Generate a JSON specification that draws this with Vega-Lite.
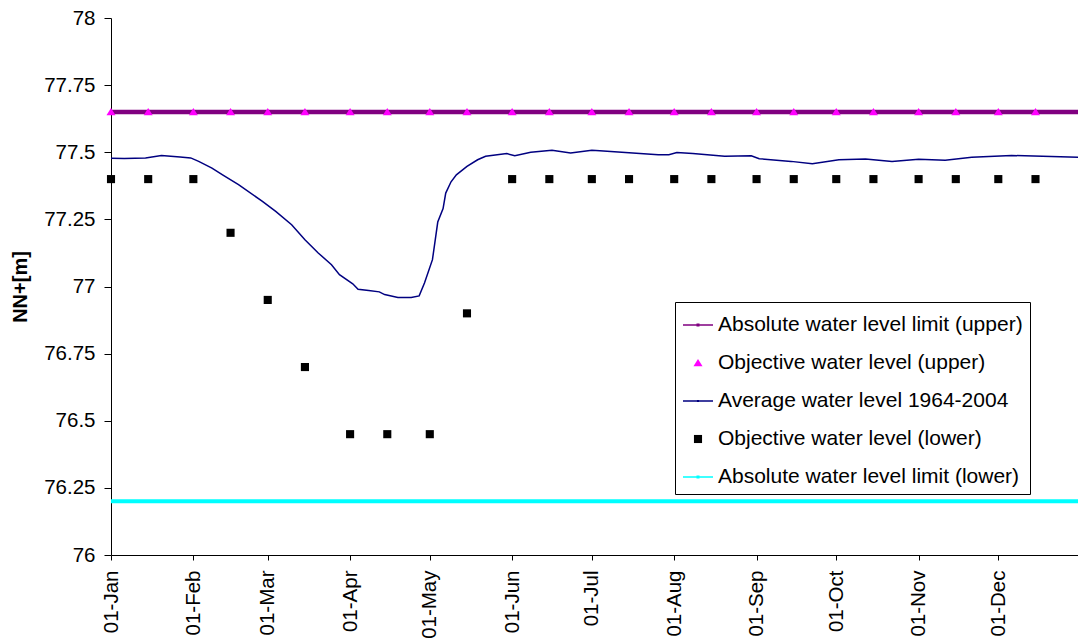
{
  "$schema": "https://vega.github.io/schema/vega-lite/v6.json",
  "autosize": {"type": "none"},
  "padding": {"left": 111, "top": 18, "right": 0, "bottom": 87},
  "width": 967,
  "height": 537,
  "background": "white",
  "config": {
    "font": "Liberation Sans",
    "view": {"stroke": null},
    "axis": {"grid": false, "domainColor": "black", "tickColor": "black", "labelColor": "black", "titleColor": "black", "domainWidth": 1, "tickWidth": 1}
  },
  "datasets": {
    "upperLimit": [
      {"series": "Absolute water level limit (upper)", "date": "2001-01-01", "value": 77.65},
      {"series": "Absolute water level limit (upper)", "date": "2001-12-31", "value": 77.65}
    ],
    "lowerLimit": [
      {"series": "Absolute water level limit (lower)", "date": "2001-01-01", "value": 76.2},
      {"series": "Absolute water level limit (lower)", "date": "2001-12-31", "value": 76.2}
    ],
    "average": [
      {"date": "2001-01-01", "value": 77.478},
      {"date": "2001-01-06", "value": 77.477},
      {"date": "2001-01-14", "value": 77.479},
      {"date": "2001-01-20", "value": 77.488},
      {"date": "2001-01-27", "value": 77.482},
      {"date": "2001-01-31", "value": 77.479},
      {"date": "2001-02-03", "value": 77.466},
      {"date": "2001-02-08", "value": 77.441},
      {"date": "2001-02-12", "value": 77.416},
      {"date": "2001-02-18", "value": 77.379},
      {"date": "2001-02-27", "value": 77.317},
      {"date": "2001-03-04", "value": 77.28},
      {"date": "2001-03-10", "value": 77.23},
      {"date": "2001-03-15", "value": 77.174},
      {"date": "2001-03-20", "value": 77.125},
      {"date": "2001-03-25", "value": 77.081},
      {"date": "2001-03-28", "value": 77.044},
      {"date": "2001-04-02", "value": 77.01},
      {"date": "2001-04-04", "value": 76.99},
      {"date": "2001-04-08", "value": 76.985},
      {"date": "2001-04-12", "value": 76.98},
      {"date": "2001-04-14", "value": 76.97},
      {"date": "2001-04-19", "value": 76.959},
      {"date": "2001-04-24", "value": 76.959},
      {"date": "2001-04-27", "value": 76.965},
      {"date": "2001-04-29", "value": 77.013},
      {"date": "2001-05-02", "value": 77.1},
      {"date": "2001-05-03", "value": 77.17},
      {"date": "2001-05-04", "value": 77.24},
      {"date": "2001-05-06", "value": 77.29},
      {"date": "2001-05-07", "value": 77.348},
      {"date": "2001-05-09", "value": 77.39},
      {"date": "2001-05-11", "value": 77.416},
      {"date": "2001-05-15", "value": 77.447},
      {"date": "2001-05-19", "value": 77.472},
      {"date": "2001-05-22", "value": 77.485},
      {"date": "2001-05-30", "value": 77.495},
      {"date": "2001-06-02", "value": 77.487},
      {"date": "2001-06-08", "value": 77.5},
      {"date": "2001-06-16", "value": 77.507},
      {"date": "2001-06-23", "value": 77.497},
      {"date": "2001-07-01", "value": 77.507},
      {"date": "2001-07-04", "value": 77.506},
      {"date": "2001-07-26", "value": 77.491},
      {"date": "2001-07-30", "value": 77.491},
      {"date": "2001-08-02", "value": 77.499},
      {"date": "2001-08-08", "value": 77.495},
      {"date": "2001-08-20", "value": 77.485},
      {"date": "2001-08-30", "value": 77.487},
      {"date": "2001-09-02", "value": 77.476},
      {"date": "2001-09-14", "value": 77.466},
      {"date": "2001-09-22", "value": 77.457},
      {"date": "2001-10-02", "value": 77.472},
      {"date": "2001-10-12", "value": 77.475},
      {"date": "2001-10-22", "value": 77.466},
      {"date": "2001-11-01", "value": 77.474},
      {"date": "2001-11-11", "value": 77.47},
      {"date": "2001-11-21", "value": 77.481},
      {"date": "2001-12-06", "value": 77.488},
      {"date": "2001-12-31", "value": 77.481}
    ],
    "objectives": [
      {"series": "Objective water level (upper)", "date": "2001-01-01", "value": 77.65},
      {"series": "Objective water level (upper)", "date": "2001-01-15", "value": 77.65},
      {"series": "Objective water level (upper)", "date": "2001-02-01", "value": 77.65},
      {"series": "Objective water level (upper)", "date": "2001-02-15", "value": 77.65},
      {"series": "Objective water level (upper)", "date": "2001-03-01", "value": 77.65},
      {"series": "Objective water level (upper)", "date": "2001-03-15", "value": 77.65},
      {"series": "Objective water level (upper)", "date": "2001-04-01", "value": 77.65},
      {"series": "Objective water level (upper)", "date": "2001-04-15", "value": 77.65},
      {"series": "Objective water level (upper)", "date": "2001-05-01", "value": 77.65},
      {"series": "Objective water level (upper)", "date": "2001-05-15", "value": 77.65},
      {"series": "Objective water level (upper)", "date": "2001-06-01", "value": 77.65},
      {"series": "Objective water level (upper)", "date": "2001-06-15", "value": 77.65},
      {"series": "Objective water level (upper)", "date": "2001-07-01", "value": 77.65},
      {"series": "Objective water level (upper)", "date": "2001-07-15", "value": 77.65},
      {"series": "Objective water level (upper)", "date": "2001-08-01", "value": 77.65},
      {"series": "Objective water level (upper)", "date": "2001-08-15", "value": 77.65},
      {"series": "Objective water level (upper)", "date": "2001-09-01", "value": 77.65},
      {"series": "Objective water level (upper)", "date": "2001-09-15", "value": 77.65},
      {"series": "Objective water level (upper)", "date": "2001-10-01", "value": 77.65},
      {"series": "Objective water level (upper)", "date": "2001-10-15", "value": 77.65},
      {"series": "Objective water level (upper)", "date": "2001-11-01", "value": 77.65},
      {"series": "Objective water level (upper)", "date": "2001-11-15", "value": 77.65},
      {"series": "Objective water level (upper)", "date": "2001-12-01", "value": 77.65},
      {"series": "Objective water level (upper)", "date": "2001-12-15", "value": 77.65},
      {"series": "Objective water level (lower)", "date": "2001-01-01", "value": 77.4},
      {"series": "Objective water level (lower)", "date": "2001-01-15", "value": 77.4},
      {"series": "Objective water level (lower)", "date": "2001-02-01", "value": 77.4},
      {"series": "Objective water level (lower)", "date": "2001-02-15", "value": 77.2},
      {"series": "Objective water level (lower)", "date": "2001-03-01", "value": 76.95},
      {"series": "Objective water level (lower)", "date": "2001-03-15", "value": 76.7},
      {"series": "Objective water level (lower)", "date": "2001-04-01", "value": 76.45},
      {"series": "Objective water level (lower)", "date": "2001-04-15", "value": 76.45},
      {"series": "Objective water level (lower)", "date": "2001-05-01", "value": 76.45},
      {"series": "Objective water level (lower)", "date": "2001-05-15", "value": 76.9},
      {"series": "Objective water level (lower)", "date": "2001-06-01", "value": 77.4},
      {"series": "Objective water level (lower)", "date": "2001-06-15", "value": 77.4},
      {"series": "Objective water level (lower)", "date": "2001-07-01", "value": 77.4},
      {"series": "Objective water level (lower)", "date": "2001-07-15", "value": 77.4},
      {"series": "Objective water level (lower)", "date": "2001-08-01", "value": 77.4},
      {"series": "Objective water level (lower)", "date": "2001-08-15", "value": 77.4},
      {"series": "Objective water level (lower)", "date": "2001-09-01", "value": 77.4},
      {"series": "Objective water level (lower)", "date": "2001-09-15", "value": 77.4},
      {"series": "Objective water level (lower)", "date": "2001-10-01", "value": 77.4},
      {"series": "Objective water level (lower)", "date": "2001-10-15", "value": 77.4},
      {"series": "Objective water level (lower)", "date": "2001-11-01", "value": 77.4},
      {"series": "Objective water level (lower)", "date": "2001-11-15", "value": 77.4},
      {"series": "Objective water level (lower)", "date": "2001-12-01", "value": 77.4},
      {"series": "Objective water level (lower)", "date": "2001-12-15", "value": 77.4}
    ]
  },
  "encoding": {
    "x": {
      "field": "date", "type": "temporal",
      "scale": {"type": "utc", "domain": [{"year": 2001, "month": 1, "date": 1, "utc": true}, {"year": 2001, "month": 12, "date": 31, "utc": true}]},
      "axis": {
        "title": null, "format": "%d-%b",
        "values": [
          {"year": 2001, "month": 1, "date": 1, "utc": true},
          {"year": 2001, "month": 2, "date": 1, "utc": true},
          {"year": 2001, "month": 3, "date": 1, "utc": true},
          {"year": 2001, "month": 4, "date": 1, "utc": true},
          {"year": 2001, "month": 5, "date": 1, "utc": true},
          {"year": 2001, "month": 6, "date": 1, "utc": true},
          {"year": 2001, "month": 7, "date": 1, "utc": true},
          {"year": 2001, "month": 8, "date": 1, "utc": true},
          {"year": 2001, "month": 9, "date": 1, "utc": true},
          {"year": 2001, "month": 10, "date": 1, "utc": true},
          {"year": 2001, "month": 11, "date": 1, "utc": true},
          {"year": 2001, "month": 12, "date": 1, "utc": true}
        ],
        "labelAngle": 270, "labelAlign": "right", "labelBaseline": "middle",
        "labelFontSize": 20.5, "labelPadding": 10, "tickSize": 5, "labelOverlap": false, "labelFlush": false
      }
    },
    "y": {
      "field": "value", "type": "quantitative",
      "scale": {"domain": [76, 78], "nice": false, "zero": false},
      "axis": {
        "title": "NN+[m]", "titleFontSize": 20, "titleFontWeight": "bold",
        "titleX": -91, "titleY": 268.5, "titleAngle": 270, "titleAlign": "center", "titleBaseline": "middle",
        "values": [76, 76.25, 76.5, 76.75, 77, 77.25, 77.5, 77.75, 78],
        "format": ".2~f", "labelFontSize": 20.5, "labelPadding": 9, "tickSize": 7, "labelOverlap": false, "labelFlush": false
      }
    }
  },
  "layer": [
    {
      "data": {"name": "upperLimit"},
      "mark": {"type": "line", "color": "#800080", "strokeWidth": 4.5}
    },
    {
      "data": {"name": "average"},
      "mark": {"type": "line", "color": "#000080", "strokeWidth": 1.5}
    },
    {
      "data": {"name": "lowerLimit"},
      "mark": {"type": "line", "color": "#00FFFF", "strokeWidth": 4}
    },
    {
      "data": {"name": "objectives"},
      "mark": {"type": "point", "filled": true, "size": 900, "opacity": 1},
      "encoding": {
        "color": {
          "field": "series", "type": "nominal",
          "scale": {
            "domain": ["Absolute water level limit (upper)", "Objective water level (upper)", "Average water level 1964-2004", "Objective water level (lower)", "Absolute water level limit (lower)"],
            "range": ["#800080", "#FF00FF", "#000080", "#000000", "#00FFFF"]
          },
          "legend": {
            "title": null, "orient": "none", "legendX": 564, "legendY": 284,
            "padding": 7, "strokeColor": "black", "fillColor": "white",
            "symbolSize": 900, "labelFontSize": 21, "labelColor": "black",
            "labelOffset": 4, "rowPadding": 12, "labelLimit": 400, "symbolOpacity": 1
          }
        },
        "shape": {
          "field": "series", "type": "nominal",
          "scale": {
            "domain": ["Absolute water level limit (upper)", "Objective water level (upper)", "Average water level 1964-2004", "Objective water level (lower)", "Absolute water level limit (lower)"],
            "range": [
              "M-1,-0.05H1V0.05H-1ZM-0.1,-0.1H0.1V0.1H-0.1Z",
              "M0,-0.27L0.3,0.22L-0.3,0.22Z",
              "M-1,-0.045H1V0.045H-1ZM-0.07,-0.07H0.07V0.07H-0.07Z",
              "M-0.27,-0.27H0.27V0.27H-0.27Z",
              "M-1,-0.05H1V0.05H-1ZM-0.1,-0.1H0.1V0.1H-0.1Z"
            ]
          }
        }
      }
    }
  ]
}
